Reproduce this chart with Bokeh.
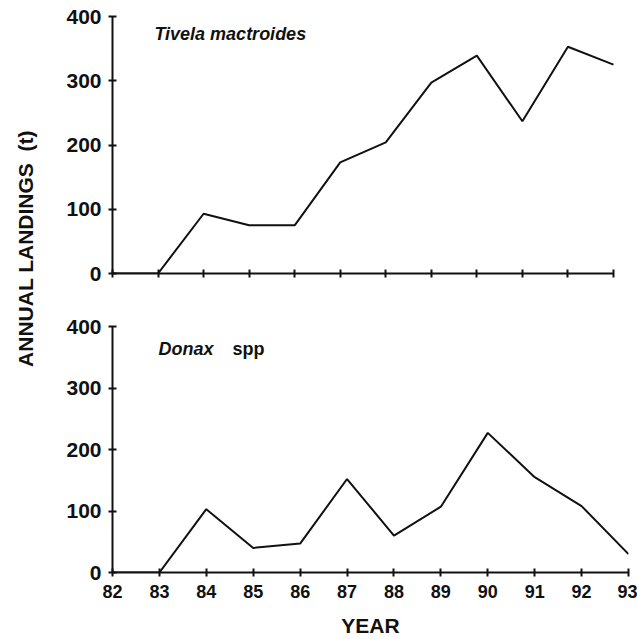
import math
from bokeh.plotting import figure
from bokeh.layouts import row, column
from bokeh.models import Range1d, FixedTicker, Label
from bokeh.embed import file_html
from bokeh.resources import INLINE

years = [82, 83, 84, 85, 86, 87, 88, 89, 90, 91, 92, 93]
tivela = [0, 0, 93, 75, 75, 173, 204, 297, 339, 237, 353, 325]
donax = [0, 0, 103, 40, 47, 152, 60, 107, 227, 155, 108, 30]
y_ticks = [0, 100, 200, 300, 400]
year_labels = [str(y) for y in years]

INK = "#111111"
FONT = "Liberation Sans"
NARROW = "'Liberation Sans Narrow', 'Liberation Sans'"


def panel(width, height, bl, br, bt, bb, values, show_x_labels, x_end):
    p = figure(width=width, height=height,
               x_range=Range1d(years[0], x_end),
               y_range=Range1d(y_ticks[0], y_ticks[-1]),
               output_backend="svg", toolbar_location=None,
               min_border_left=bl, min_border_right=br,
               min_border_top=bt, min_border_bottom=bb)
    p.outline_line_color = None
    p.xgrid.visible = False
    p.ygrid.visible = False
    p.background_fill_color = "white"
    p.border_fill_color = "white"
    p.line(years, values, line_color=INK, line_width=2)

    xa = p.xaxis[0]
    xa.ticker = FixedTicker(ticks=years)
    xa.bounds = (years[0], years[-1])
    xa.major_label_overrides = {y: s for y, s in zip(years, year_labels)}
    xa.axis_line_width = 2
    xa.axis_line_color = INK
    xa.major_tick_line_width = 2
    xa.major_tick_line_color = INK
    xa.major_tick_in = 4
    xa.major_tick_out = 4
    xa.minor_tick_line_color = None
    if show_x_labels:
        xa.major_label_text_font = NARROW
        xa.major_label_text_font_style = "bold"
        xa.major_label_text_font_size = "18px"
        xa.major_label_text_color = INK
        xa.major_label_standoff = 8
        xa.axis_label = "YEAR"
        xa.axis_label_text_font = FONT
        xa.axis_label_text_font_style = "bold"
        xa.axis_label_text_font_size = "21px"
        xa.axis_label_text_color = INK
        xa.axis_label_standoff = 13
    else:
        xa.major_label_text_font_size = "8px"
        xa.major_label_text_color = None
        xa.major_label_standoff = 0

    ya = p.yaxis[0]
    ya.ticker = FixedTicker(ticks=y_ticks)
    ya.axis_line_width = 2
    ya.axis_line_color = INK
    ya.major_tick_line_width = 2
    ya.major_tick_line_color = INK
    ya.major_tick_in = 4
    ya.major_tick_out = 4
    ya.minor_tick_line_color = None
    ya.major_label_text_font = FONT
    ya.major_label_text_font_style = "bold"
    ya.major_label_text_font_size = "21px"
    ya.major_label_text_color = INK
    ya.major_label_standoff = 7
    return p


# top panel is a little narrower than the bottom one in the original
top = panel(577, 300, 52, 9, 16, 27, tivela, False, years[-1] + 0.33)
top.add_layout(Label(x=82.92, y=372, text="Tivela mactroides",
                     text_font=FONT, text_font_style="bold italic",
                     text_font_size="18px", text_color=INK,
                     text_baseline="alphabetic"))

bot = panel(577, 339, 52, 9, 26, 66, donax, True, years[-1])
bot.add_layout(Label(x=82.98, y=364, text="Donax",
                     text_font=FONT, text_font_style="bold italic",
                     text_font_size="18px", text_color=INK,
                     text_baseline="alphabetic"))
bot.add_layout(Label(x=84.56, y=364, text="spp",
                     text_font=FONT, text_font_style="bold",
                     text_font_size="18px", text_color=INK,
                     text_baseline="alphabetic"))

lab = figure(width=60, height=639, x_range=Range1d(0, 60), y_range=Range1d(0, 639),
             output_backend="svg", toolbar_location=None,
             min_border_left=0, min_border_right=0, min_border_top=0, min_border_bottom=0)
lab.xaxis.visible = False
lab.yaxis.visible = False
lab.xgrid.visible = False
lab.ygrid.visible = False
lab.outline_line_color = None
lab.add_layout(Label(x=25, y=391, text="ANNUAL LANDINGS\u00a0\u00a0(t)", angle=math.pi / 2,
                     text_align="center", text_baseline="middle",
                     text_font=FONT, text_font_style="bold",
                     text_font_size="21px", text_color=INK))

layout = row(lab, column(top, bot))
open("out.html", "w").write(file_html(layout, INLINE))
